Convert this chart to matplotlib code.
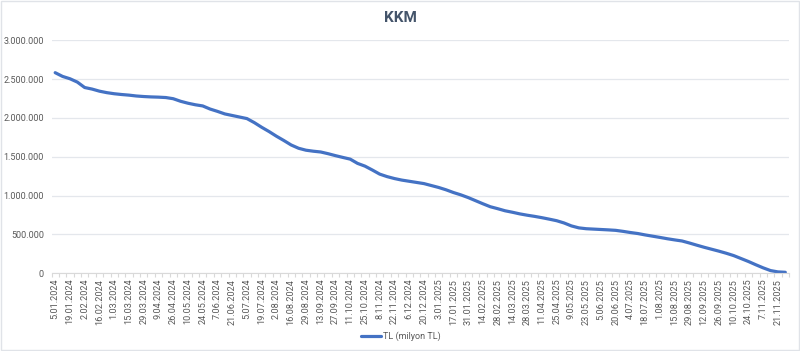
import matplotlib
matplotlib.use("Agg")
import matplotlib.pyplot as plt
from matplotlib.ticker import FuncFormatter, FixedLocator
from matplotlib.patches import Rectangle

title = "KKM"
series_name = "TL (milyon TL)"

dates = [
    "5.01.2024", "12.01.2024", "19.01.2024", "26.01.2024", "2.02.2024", "9.02.2024",
    "16.02.2024", "23.02.2024", "1.03.2024", "8.03.2024", "15.03.2024", "22.03.2024",
    "29.03.2024", "5.04.2024", "9.04.2024", "19.04.2024", "26.04.2024", "3.05.2024",
    "10.05.2024", "17.05.2024", "24.05.2024", "31.05.2024", "7.06.2024", "14.06.2024",
    "21.06.2024", "28.06.2024", "5.07.2024", "12.07.2024", "19.07.2024", "26.07.2024",
    "2.08.2024", "9.08.2024", "16.08.2024", "23.08.2024", "29.08.2024", "6.09.2024",
    "13.09.2024", "20.09.2024", "27.09.2024", "4.10.2024", "11.10.2024", "18.10.2024",
    "25.10.2024", "1.11.2024", "8.11.2024", "15.11.2024", "22.11.2024", "29.11.2024",
    "6.12.2024", "13.12.2024", "20.12.2024", "27.12.2024", "3.01.2025", "10.01.2025",
    "17.01.2025", "24.01.2025", "31.01.2025", "7.02.2025", "14.02.2025", "21.02.2025",
    "28.02.2025", "7.03.2025", "14.03.2025", "21.03.2025", "28.03.2025", "4.04.2025",
    "11.04.2025", "18.04.2025", "25.04.2025", "2.05.2025", "9.05.2025", "16.05.2025",
    "23.05.2025", "30.05.2025", "5.06.2025", "13.06.2025", "20.06.2025", "27.06.2025",
    "4.07.2025", "11.07.2025", "18.07.2025", "25.07.2025", "1.08.2025", "8.08.2025",
    "15.08.2025", "22.08.2025", "29.08.2025", "5.09.2025", "12.09.2025", "19.09.2025",
    "26.09.2025", "3.10.2025", "10.10.2025", "17.10.2025", "24.10.2025", "31.10.2025",
    "7.11.2025", "14.11.2025", "21.11.2025", "28.11.2025",
]

values = [
    2583000, 2535000, 2505000, 2462000, 2392000, 2372000, 2345000, 2326000, 2312000, 2302000,
    2294000, 2283000, 2276000, 2271000, 2268000, 2263000, 2248000, 2215000, 2190000, 2170000,
    2155000, 2115000, 2085000, 2052000, 2032000, 2012000, 1992000, 1940000, 1880000, 1825000,
    1765000, 1710000, 1652000, 1610000, 1585000, 1572000, 1562000, 1540000, 1515000, 1492000,
    1470000, 1415000, 1380000, 1330000, 1277000, 1245000, 1220000, 1200000, 1185000, 1170000,
    1155000, 1130000, 1105000, 1075000, 1040000, 1010000, 975000, 935000, 895000, 857000,
    832000, 805000, 786000, 765000, 748000, 733000, 716000, 697000, 677000, 648000,
    610000, 585000, 574000, 569000, 564000, 559000, 553000, 540000, 525000, 512000,
    494000, 478000, 462000, 445000, 430000, 416000, 390000, 362000, 335000, 310000,
    285000, 258000, 228000, 190000, 152000, 110000, 70000, 35000, 18000, 13000,
]

y_ticks = [0, 500000, 1000000, 1500000, 2000000, 2500000, 3000000]

plt.rcParams['font.family'] = ['Roboto', 'DejaVu Sans']

fig = plt.figure(figsize=(8.0, 3.51), dpi=100)
ax = fig.add_axes([51.5 / 800, 1 - 273.3 / 351, (789 - 51.5) / 800, (273.3 - 40.3) / 351])

x = list(range(len(dates)))
line, = ax.plot(x, values, color="#4472C4", linewidth=2.3, solid_capstyle="round",
                solid_joinstyle="round", label=series_name)

ax.set_xlim(-0.5, len(dates) - 0.5)
ax.set_ylim(0, 3000000)

def fmt(v, pos):
    return f"{int(round(v)):,}".replace(",", ".")

ax.yaxis.set_major_locator(FixedLocator(y_ticks))
ax.yaxis.set_major_formatter(FuncFormatter(fmt))
ax.grid(axis="y", color="#E4E7EC", linewidth=0.9)
ax.set_axisbelow(True)

label_idx = list(range(0, len(dates), 2))
ax.set_xticks(label_idx)
ax.set_xticklabels([dates[i] for i in label_idx], rotation=90, fontsize=6.6, color="#595959")
ax.set_xticks([i - 0.5 for i in range(len(dates) + 1)], minor=True)
ax.tick_params(axis="x", which="major", length=0, pad=4)
ax.tick_params(axis="x", which="minor", length=3, color="#D9D9D9", width=0.8)
ax.tick_params(axis="y", length=0, labelsize=6.5, labelcolor="#595959", pad=5.5)

for s in ["top", "right", "left"]:
    ax.spines[s].set_visible(False)
ax.spines["bottom"].set_color("#D9D9D9")
ax.spines["bottom"].set_linewidth(0.8)

fig.text(0.5, 1 - 18 / 351, title, ha="center", va="center", fontsize=11,
         fontweight="bold", color="#44546A")

leg = fig.legend(handles=[line], loc="center", bbox_to_anchor=(401 / 800, 1 - 336 / 351),
                 frameon=False, fontsize=6.5, handlelength=2.2, handletextpad=0.3)
for t in leg.get_texts():
    t.set_color("#595959")

fig.patches.append(Rectangle((0.001, 0.002), 0.998, 0.996, transform=fig.transFigure,
                             fill=False, edgecolor="#E0E3E8", linewidth=1.0))

fig.savefig("out.png", dpi=100, facecolor="white")
